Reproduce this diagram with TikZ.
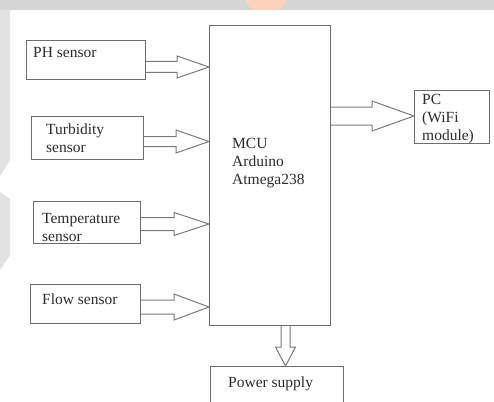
\documentclass[tikz,border=0pt]{standalone}
\usepackage{fontspec}
\setmainfont{Liberation Serif}
\usetikzlibrary{calc}
\definecolor{bandgrey}{HTML}{D6D6D6}
\definecolor{markgrey}{HTML}{E2E2E2}
\definecolor{peach}{HTML}{FBD3BC}
\definecolor{boxline}{HTML}{6E6E6E}
\definecolor{arrline}{HTML}{7A7A7A}
\definecolor{txt}{HTML}{2B2B2B}
\tikzset{
  box/.style={draw=boxline, line width=1.2pt, rectangle, inner sep=0pt, anchor=north west},
  lbl/.style={anchor=base west, inner sep=0pt, align=left, text=txt,
              font=\fontsize{15.5}{18}\selectfont},
  blk/.style={draw=arrline, line width=1pt, fill=white, line join=miter}
}
% horizontal block arrow: start node point, tip point, shaft half, head half, head length
\newcommand\rblock[5]{%
  \draw[blk] let \p1=(#1), \p2=(#2) in
    (\x1,\y2+#3) -- (\x2-#5,\y2+#3) -- (\x2-#5,\y2+#4) -- (\x2,\y2)
    -- (\x2-#5,\y2-#4) -- (\x2-#5,\y2-#3) -- (\x1,\y2-#3);}
\begin{document}
\begin{tikzpicture}[x=1pt,y=-1pt]
\useasboundingbox (0,0) rectangle (494,401);
\fill[white] (0,0) rectangle (494,401);
% background decoration
\begin{scope}
  \clip (0,0) rectangle (494,10);
  \fill[bandgrey] (0,0) rectangle (494,10);
  \fill[peach] (266,-6) circle (21);
\end{scope}
\fill[markgrey] (0,10) -- (10,10) -- (10,160) -- (0,176) -- cycle;
\fill[markgrey] (0,192) -- (10,199) -- (10,255) -- (0,270) -- cycle;

% boxes
\node[box, minimum width=119pt, minimum height=39pt] (ph)   at (26,40)  {};
\node[box, minimum width=112pt, minimum height=43pt] (turb) at (31,116) {};
\node[box, minimum width=107pt, minimum height=42pt] (temp) at (33,201) {};
\node[box, minimum width=110pt, minimum height=39pt] (flow) at (30,284) {};
\node[box, minimum width=121pt, minimum height=300pt] (mcu) at (209,25) {};
\node[box, minimum width=75pt,  minimum height=53pt] (pc)   at (414,90) {};
\node[box, minimum width=133pt, minimum height=60pt] (pow)  at (210,366) {};

% labels (anchor = baseline of last line)
\node[lbl] (tph)   at (33,58)   {PH sensor};
\node[lbl] (tturb) at (46,152)  {Turbidity\\sensor};
\node[lbl] (ttemp) at (42,241)  {Temperature\\sensor};
\node[lbl] (tflow) at (42,304)  {Flow sensor};
\node[lbl] (tmcu)  at (232,184) {MCU\\Arduino\\Atmega238};
\node[lbl] (tpc)   at (422,140) {PC\\(WiFi\\module)};
\node[lbl] (tpow)  at (228,387) {Power supply};

% block arrows
\rblock{ph.east}{mcu.west |- 0,67}{5.5pt}{11pt}{32pt}
\rblock{turb.east}{mcu.west |- 0,141.5}{5pt}{11.5pt}{33pt}
\rblock{temp.east}{mcu.west |- 0,224}{6.5pt}{11.5pt}{35pt}
\rblock{flow.east}{mcu.west |- 0,307}{7pt}{13pt}{35pt}
\rblock{mcu.east |- 0,116}{pc.west |- 0,116}{9pt}{15pt}{42pt}
\draw[blk] let \p1=(mcu.south -| 285.5,0), \p2=(pow.north -| 285.5,0) in
  (\x1-4.5pt,\y1) -- (\x1-4.5pt,\y2+19pt) -- (\x1-10pt,\y2+19pt) -- (\x1,\y2)
  -- (\x1+10pt,\y2+19pt) -- (\x1+4.5pt,\y2+19pt) -- (\x1+4.5pt,\y1);
\end{tikzpicture}
\end{document}
